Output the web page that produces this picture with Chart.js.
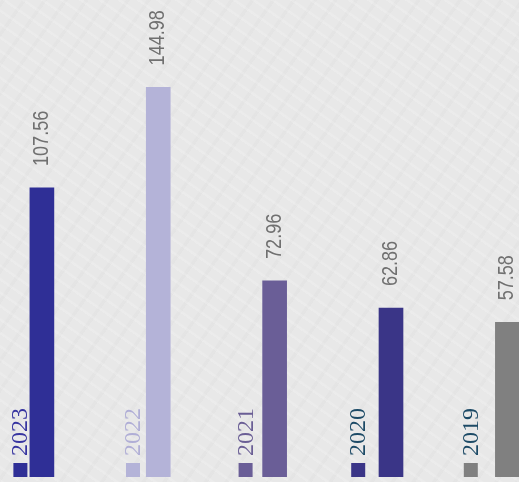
<!DOCTYPE html>
<html lang="en">
<head>
  <meta charset="UTF-8" />
  <title>Yearly Totals</title>
  <script src="https://cdn.jsdelivr.net/npm/chart.js"></script>
  <style>
    html, body { margin: 0; padding: 0; }
    body {
      background-color: #e8e8e8;
      /* faint paper grain */
      background-image:
        repeating-linear-gradient(35deg, rgba(255,255,255,0.16) 0 2px, rgba(255,255,255,0) 3px 11px),
        repeating-linear-gradient(-55deg, rgba(0,0,0,0.015) 0 3px, rgba(0,0,0,0) 4px 17px);
    }
    .chart-container { position: relative; width: 519px; height: 482px; }
  </style>
</head>
<body>
  <div class="chart-container">
    <canvas id="yearsChart"></canvas>
  </div>

  <script>
    const years = ["2023", "2022", "2021", "2020", "2019"];
    const totals = [107.56, 144.98, 72.96, 62.86, 57.58];
    const barColors = ["#2f2f96", "#b4b3d8", "#6a5e97", "#3a3587", "#808080"];
    const yearColors = ["#3634a0", "#b0aed6", "#6a5e95", "#1c4a66", "#1c4a66"];

    // rotated value above each bar, small square + rotated year beside it
    const labelsPlugin = {
      id: 'barLabels',
      afterDatasetsDraw(chart) {
        const ctx = chart.ctx;
        const bars = chart.getDatasetMeta(0).data;
        const x2 = chart.scales.x2;
        const base = chart.scales.y.getPixelForValue(0);

        ctx.save();
        bars.forEach((bar, i) => {
          // value, squeezed a little along the text direction
          ctx.save();
          ctx.translate(bar.x, bar.y - 22);
          ctx.rotate(-Math.PI / 2);
          ctx.scale(0.82, 1);
          ctx.font = '22px "Liberation Sans", Arial, sans-serif';
          ctx.fillStyle = '#707070';
          ctx.textAlign = 'left';
          ctx.textBaseline = 'middle';
          ctx.fillText(totals[i].toFixed(2), 0, 0);
          ctx.restore();

          const mx = x2.getPixelForValue(i);
          ctx.fillStyle = barColors[i];
          ctx.fillRect(mx - 7, base - 14, 14, 14);

          ctx.save();
          ctx.translate(mx + 7, base - 21);
          ctx.rotate(-Math.PI / 2);
          ctx.font = '24px "Liberation Serif", "Times New Roman", "DejaVu Serif", serif';
          ctx.fillStyle = yearColors[i];
          ctx.textAlign = 'left';
          ctx.textBaseline = 'alphabetic';
          ctx.fillText(years[i], 0, 0);
          ctx.restore();
        });
        ctx.restore();
      }
    };

    const ctx = document.getElementById('yearsChart').getContext('2d');
    new Chart(ctx, {
      type: 'bar',
      data: {
        datasets: [{
          label: 'Total',
          data: totals.map((v, i) => ({ x: i, y: v })),
          backgroundColor: barColors,
          barThickness: 24,
          borderWidth: 0
        }]
      },
      options: {
        responsive: true,
        maintainAspectRatio: false,
        animation: false,
        layout: { padding: { top: 0, left: 0, right: 0, bottom: 5 } },
        plugins: {
          legend: { display: false },
          tooltip: { enabled: false }
        },
        scales: {
          x: { type: 'linear', offset: false, min: -0.36, max: 4.1, display: false },
          x2: { type: 'linear', axis: 'x', offset: false, position: 'bottom', min: -0.181, max: 4.428, display: false },
          y: { min: 0, max: 177.5, display: false }
        }
      },
      plugins: [labelsPlugin]
    });
  </script>
</body>
</html>
